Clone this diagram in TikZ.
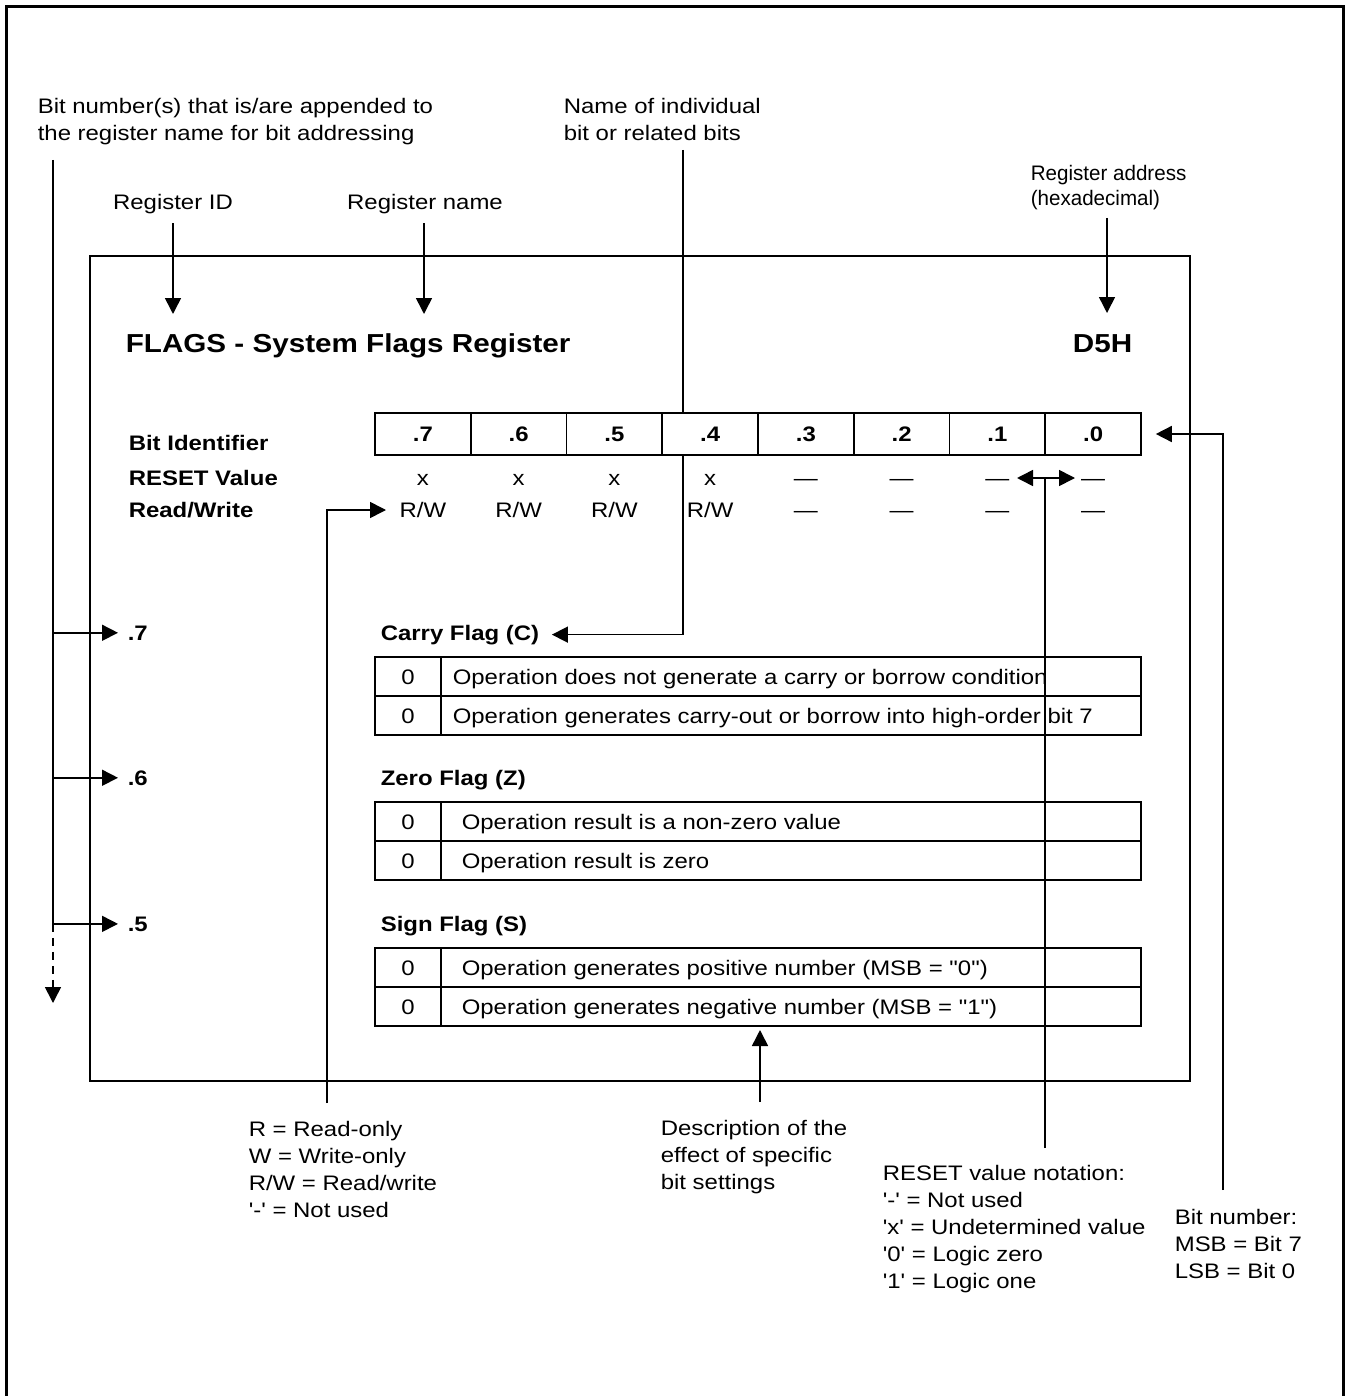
\documentclass[tikz,border=0pt]{standalone}
\usepackage{fontspec}
\setmainfont{Liberation Sans}[Ligatures=TeXOff,FakeStretch=1.14]
\newfontfamily\narrowfont{Liberation Sans}[Ligatures=TeXOff,FakeStretch=0.98]
\usetikzlibrary{arrows.meta,positioning}

\begin{document}
\begin{tikzpicture}[x=0.5pt,y=-0.5pt,>={Triangle[length=8pt,width=8pt]},
   line width=0.8pt,
   every node/.style={font=\fontsize{10.5}{13.5}\selectfont,inner sep=0pt},
   lbl/.style={font=\fontsize{10.5}{13.5}\selectfont\bfseries},
   note/.style={anchor=north west,align=left},
   cell/.style={draw,fill=white,minimum width=47.875pt,minimum height=21pt,
     font=\fontsize{10.5}{13.5}\selectfont\bfseries}]
  \useasboundingbox (0,0) rectangle (1347,1396);
  % frames
  \draw[line width=1.5pt] (6,1396) -- (6,7) -- (1343,7) -- (1343,1396);
  \draw (90,256) rectangle (1190,1081);

  % callouts on top
  \node[note] (append) at (37,97) {Bit number(s) that is/are appended to\\the register name for bit addressing};
  \node[note] (bitname) at (563,97) {Name of individual\\bit or related bits};
  \node[note,font=\narrowfont\fontsize{10.5}{12.5}\selectfont] (addrnote) at (1030,164) {Register address\\(hexadecimal)};
  \node[anchor=base] (regid) at (173,210) {Register ID};
  \node[anchor=base] (regname) at (425,210) {Register name};
  \node[anchor=base west,font=\fontsize{13}{15}\selectfont\bfseries] (title) at (125,352) {FLAGS - System Flags Register};
  \node[anchor=base east,font=\fontsize{13}{15}\selectfont\bfseries] (addr) at (1133,352) {D5H};

  \coordinate (idtip) at (173,314);
  \coordinate (nametip) at (424,314);
  \coordinate (addrtop) at (1107,218);
  \coordinate (addrtip) at (1107,313);
  \draw[->] ([yshift=-4pt]regid.south) -- (idtip);
  \draw[->] ([yshift=-4pt]regname.south -| nametip) -- (nametip);
  \draw[->] (addrtop) -- (addrtip);

  % row labels
  \node[lbl,anchor=base west] (bitid) at (128,450) {Bit Identifier};
  \node[lbl,anchor=base west] (resetv) at (128,485) {RESET Value};
  \node[lbl,anchor=base west] (rwlbl) at (128,517) {Read/Write};

  % bit labels and flag names
  \foreach \b/\y/\t in {7/640/Carry Flag (C),6/785/Zero Flag (Z),5/931/Sign Flag (S)} {
    \node[lbl,anchor=base west] (s\b) at (127,\y) {.\b};
    \node[lbl,anchor=base west] (f\b) at (380,\y) {\t};
  }

  % bit addressing bracket
  \coordinate (bt) at (53,160);
  \coordinate (bend) at (53,1003);
  \draw (bt) -- (bt |- s5);
  \foreach \b in {7,6,5}
    \draw[->] (bt |- s\b) -- ([xshift=-4.5pt]s\b.west);
  \draw[->,dash pattern=on 4pt off 3pt] (bt |- s5) -- (bend);

  % individual bit name -> carry flag
  \coordinate (nb) at (683,150);
  \draw[->] (nb) |- ([xshift=6pt]f7.east);

  % register bits
  \foreach \b [count=\i] in {7,6,...,0}
    \node[cell] (c\b) at ({375+95.75*(\i-0.5)},434) {.\b};
  \foreach \b in {7,6,5,4} {
    \node[anchor=base] (rv\b) at (c\b |- 0,485) {x};
    \node[anchor=base] (rw\b) at (c\b |- 0,517) {R/W};
  }
  \foreach \b in {3,2,1,0} {
    \node[anchor=base] (rv\b) at (c\b |- 0,485) {—};
    \node[anchor=base] (rw\b) at (c\b |- 0,517) {—};
  }

  % flag tables
  \foreach \n/\y/\dx/\ta/\tb in {
    cy/657/452/Operation does not generate a carry or borrow condition/Operation generates carry-out or borrow into high-order bit 7,
    ze/802/461/Operation result is a non-zero value/Operation result is zero,
    si/948/461/Operation generates positive number (MSB = "0")/Operation generates negative number (MSB = "1")} {
    \draw (375,\y) rectangle (1141,\y+78) (375,\y+39) -- (1141,\y+39) (441,\y) -- (441,\y+78);
    \node[anchor=base] (\n-va) at (408,\y+27) {0};
    \node[anchor=base west] (\n-ta) at (\dx,\y+27) {\ta};
    \node[anchor=base] (\n-vb) at (408,\y+66) {0};
    \node[anchor=base west] (\n-tb) at (\dx,\y+66) {\tb};
  }

  % notes below
  \node[note] (rwnote) at (248,1120) {R = Read-only\\W = Write-only\\R/W = Read/write\\'-' = Not used};
  \node[note] (descnote) at (660,1119) {Description of the\\effect of specific\\bit settings};
  \node[note] (resetnote) at (882,1164) {RESET value notation:\\'-' = Not used\\'x' = Undetermined value\\'0' = Logic zero\\'1' = Logic one};
  \node[note] (bitnum) at (1174,1208) {Bit number:\\MSB = Bit 7\\LSB = Bit 0};

  \coordinate (rwtail) at (327,1103);
  \coordinate (rwtip) at (386,510);
  \draw[->] (rwtail) |- (rwtip);
  \coordinate (dtail) at (760,1102);
  \coordinate (dtip) at (760,1030);
  \draw[->] (dtail) -- (dtip);
  \coordinate (rntail) at (1045,1148);
  \coordinate (rnmid) at (1045,478);
  \coordinate (rnl) at (1017,478);
  \coordinate (rnr) at (1075,478);
  \draw (rntail) -- (rnmid);
  \draw[<->] (rnl) -- (rnr);
  \coordinate (bntail) at (1223,1190);
  \draw[->] (bntail) |- ([xshift=7pt]c0.east);
\end{tikzpicture}
\end{document}
